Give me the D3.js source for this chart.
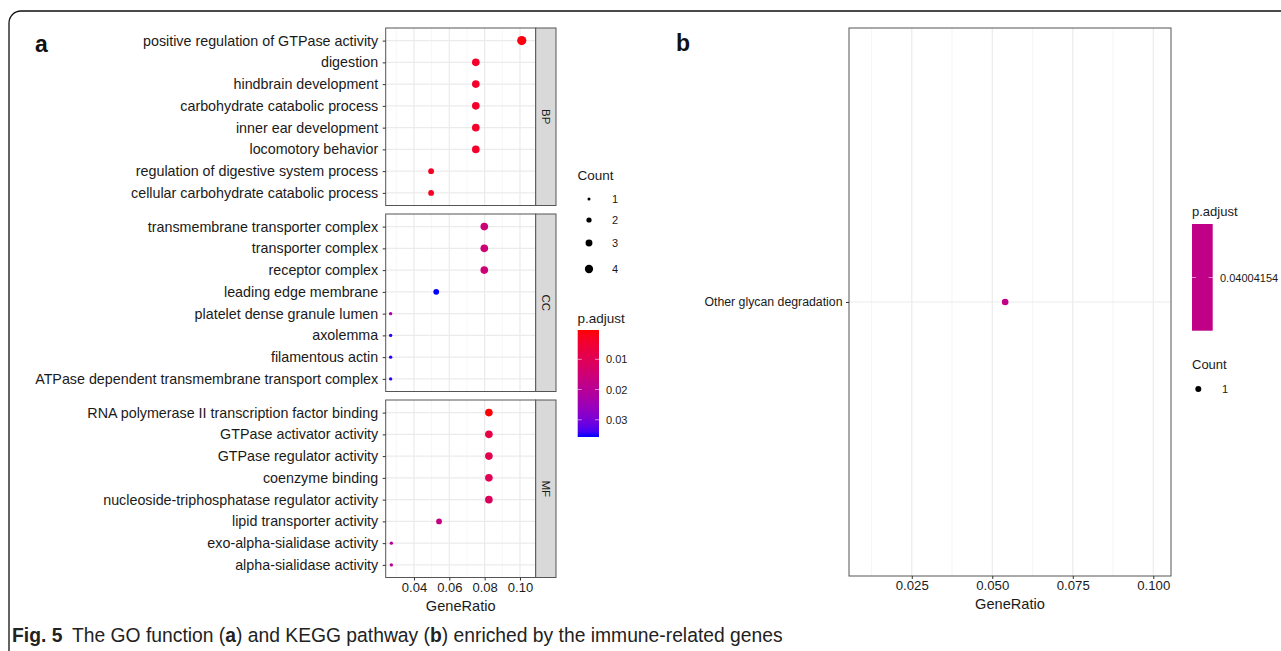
<!DOCTYPE html>
<html><head><meta charset="utf-8">
<script src="https://cdn.jsdelivr.net/npm/d3@7"></script>
<style>
html,body{margin:0;padding:0;background:#fff;}
svg{display:block;font-family:"Liberation Sans",Arial,sans-serif;}
</style></head>
<body><svg id="chart" width="1281" height="651"></svg>
<script>
// ---------- data ----------
const bpTerms = ["positive regulation of GTPase activity","digestion","hindbrain development","carbohydrate catabolic process","inner ear development","locomotory behavior","regulation of digestive system process","cellular carbohydrate catabolic process"];
const bpRatio = [0.101,0.075,0.075,0.075,0.075,0.075,0.0497,0.0497];
const bpCount = [4,3,3,3,3,3,2,2];
const bpPadj  = [0.0012,0.0040,0.0040,0.0040,0.0040,0.0040,0.0030,0.0030];

const ccTerms = ["transmembrane transporter complex","transporter complex","receptor complex","leading edge membrane","platelet dense granule lumen","axolemma","filamentous actin","ATPase dependent transmembrane transport complex"];
const ccRatio = [0.0798,0.0798,0.0798,0.0526,0.0268,0.0268,0.0268,0.0268];
const ccCount = [3,3,3,2,1,1,1,1];
const ccPadj  = [0.0150,0.0150,0.0150,0.0357,0.0220,0.0350,0.0350,0.0350];

const mfTerms = ["RNA polymerase II transcription factor binding","GTPase activator activity","GTPase regulator activity","coenzyme binding","nucleoside\u2010triphosphatase regulator activity","lipid transporter activity","exo\u2010alpha\u2010sialidase activity","alpha\u2010sialidase activity"];
const mfRatio = [0.0824,0.0824,0.0824,0.0824,0.0824,0.0542,0.0272,0.0272];
const mfCount = [3,3,3,3,3,2,1,1];
const mfPadj  = [0.0003,0.0075,0.0090,0.0100,0.0110,0.0170,0.0200,0.0200];

const facetNames = ["BP","CC","MF"];
const xTicksA = [0.04,0.06,0.08,0.10];
const countLevels = [1,2,3,4];
const padjTicks = [0.01,0.02,0.03];

const keggTerms = ["Other glycan degradation"];
const keggRatio = [0.054];
const keggCount = [1];
const keggPadj  = [0.04004154];
const xTicksB = [0.025,0.050,0.075,0.100];
const keggPadjLabels = ["0.04004154"];

// ---------- setup ----------
const svg = d3.select("#chart");
svg.append("rect").attr("width",1281).attr("height",651).attr("fill","#fff");

// outer frame
svg.append("path").attr("d","M9,651 V23 A12,12 0 0 1 21,11 H1281")
  .attr("fill","none").attr("stroke","#111").attr("stroke-width",1.3);

const gridMajor = "#EBEBEB", gridMinor = "#F4F4F4", borderCol = "#555", textCol = "#1a1a1a";
const colorScale = d3.scaleLinear().domain([0.0003,0.0357]).range(["red","blue"]).interpolate(d3.interpolateLab);
const sizeScale = d3.scalePow().exponent(0.5).domain([1,4]).range([1.7,4.6]);
const yLabSizeA = 14.3, tickSizeTxt = 13, titleSize = 14.6, legTitle = 13.5, legLab = 11;

// ---------- panel a ----------
const xA = d3.scaleLinear().domain([0.024,0.1089]).range([385.7,535.7]);
const minorA = [0.03,0.05,0.07,0.09];
const panelTop = 28, panelH = 177.5, panelGap = 8.5;
const stripW = 20.3;
const facets = [
  {name:facetNames[0], terms:bpTerms, ratio:bpRatio, count:bpCount, padj:bpPadj},
  {name:facetNames[1], terms:ccTerms, ratio:ccRatio, count:ccCount, padj:ccPadj},
  {name:facetNames[2], terms:mfTerms, ratio:mfRatio, count:mfCount, padj:mfPadj}
];
const gA = svg.append("g");
facets.forEach((f,i)=>{
  const top = panelTop + i*(panelH+panelGap);
  const y = d3.scalePoint().domain(f.terms).range([top, top+panelH]).padding(0.58);
  const g = gA.append("g");
  const x0 = xA.range()[0], x1 = xA.range()[1];
  g.append("rect").attr("x",x0).attr("y",top).attr("width",x1-x0).attr("height",panelH).attr("fill","#fff");
  g.selectAll(".vmin").data(minorA).join("line")
    .attr("x1",d=>xA(d)).attr("x2",d=>xA(d)).attr("y1",top).attr("y2",top+panelH)
    .attr("stroke",gridMinor).attr("stroke-width",0.8);
  g.selectAll(".vmaj").data(xTicksA).join("line")
    .attr("x1",d=>xA(d)).attr("x2",d=>xA(d)).attr("y1",top).attr("y2",top+panelH)
    .attr("stroke",gridMajor).attr("stroke-width",1.2);
  g.selectAll(".hmaj").data(f.terms).join("line")
    .attr("x1",x0).attr("x2",x1).attr("y1",d=>y(d)).attr("y2",d=>y(d))
    .attr("stroke",gridMajor).attr("stroke-width",1.2);
  const pts = f.terms.map((t,j)=>({t, r:f.ratio[j], c:f.count[j], p:f.padj[j]}));
  g.selectAll("circle").data(pts).join("circle")
    .attr("cx",d=>xA(d.r)).attr("cy",d=>y(d.t)).attr("r",d=>sizeScale(d.c))
    .attr("fill",d=>colorScale(d.p));
  g.append("rect").attr("x",x0).attr("y",top).attr("width",x1-x0).attr("height",panelH)
    .attr("fill","none").attr("stroke",borderCol).attr("stroke-width",1);
  // strip
  g.append("rect").attr("x",x1).attr("y",top).attr("width",stripW).attr("height",panelH)
    .attr("fill","#D9D9D9").attr("stroke",borderCol).attr("stroke-width",1);
  g.append("text").attr("transform",`translate(${x1+stripW/2},${top+panelH/2}) rotate(90)`)
    .attr("text-anchor","middle").attr("dominant-baseline","central")
    .attr("font-size",11.5).attr("fill",textCol).text(f.name);
  // y axis
  const ax = g.append("g").attr("transform",`translate(${x0},0)`)
    .call(d3.axisLeft(y).tickSize(3).tickPadding(4.5));
  ax.select(".domain").remove();
  ax.selectAll(".tick line").attr("stroke","#333");
  ax.selectAll(".tick text").attr("font-size",yLabSizeA).attr("fill",textCol).attr("font-family","Liberation Sans, Arial, sans-serif");
  if(i===2){
    const xa = g.append("g").attr("transform",`translate(0,${top+panelH})`)
      .call(d3.axisBottom(xA).tickValues(xTicksA).tickFormat(d3.format(".2f")).tickSize(3).tickPadding(2));
    xa.select(".domain").remove();
    xa.selectAll(".tick line").attr("stroke","#333");
    xa.selectAll(".tick text").attr("font-size",tickSizeTxt).attr("fill",textCol).attr("font-family","Liberation Sans, Arial, sans-serif");
    g.append("text").attr("x",(x0+x1)/2).attr("y",top+panelH+33).attr("text-anchor","middle")
      .attr("font-size",titleSize).attr("fill",textCol).text("GeneRatio");
  }
});

// panel a legend
const legA = svg.append("g");
legA.append("text").attr("x",577.5).attr("y",180).attr("font-size",legTitle).attr("fill",textCol).text("Count");
const legYs = [199,220,243,269];
legA.selectAll("circle").data(countLevels).join("circle")
  .attr("cx",589).attr("cy",(d,i)=>legYs[i]).attr("r",d=>sizeScale(d)*0.9).attr("fill","#000");
legA.selectAll(".cl").data(countLevels).join("text")
  .attr("x",612).attr("y",(d,i)=>legYs[i]).attr("dominant-baseline","central")
  .attr("font-size",legLab).attr("fill",textCol).text(d=>d);
legA.append("text").attr("x",577.5).attr("y",323).attr("font-size",legTitle).attr("fill",textCol).text("p.adjust");
const barTop = 330, barBot = 437, barX = 577.7, barW = 21.3;
const pBar = d3.scaleLinear().domain(colorScale.domain()).range([barTop,barBot]);
const defs = svg.append("defs");
const grad = defs.append("linearGradient").attr("id","gA").attr("x1",0).attr("x2",0).attr("y1",0).attr("y2",1);
d3.range(0,1.0001,0.05).forEach(t=>{
  const p = colorScale.domain()[0] + t*(colorScale.domain()[1]-colorScale.domain()[0]);
  grad.append("stop").attr("offset",t).attr("stop-color",colorScale(p));
});
legA.append("rect").attr("x",barX).attr("y",barTop).attr("width",barW).attr("height",barBot-barTop).attr("fill","url(#gA)");
padjTicks.forEach(v=>{
  const yy = pBar(v);
  legA.append("line").attr("x1",barX).attr("x2",barX+4).attr("y1",yy).attr("y2",yy).attr("stroke","#fff").attr("stroke-width",0.8).attr("opacity",0.7);
  legA.append("line").attr("x1",barX+barW-4).attr("x2",barX+barW).attr("y1",yy).attr("y2",yy).attr("stroke","#fff").attr("stroke-width",0.8).attr("opacity",0.7);
  legA.append("text").attr("x",barX+barW+7).attr("y",yy).attr("dominant-baseline","central")
    .attr("font-size",legLab).attr("fill",textCol).text(d3.format(".2f")(v));
});

// ---------- panel b ----------
const xB = d3.scaleLinear().domain([0.0055,0.1055]).range([849,1171]);
const minorB = [0.0125,0.0375,0.0625,0.0875];
const bTop = 28, bBot = 576;
const yB = d3.scalePoint().domain(keggTerms).range([bTop,bBot]).padding(0.5);
const gB = svg.append("g");
gB.append("rect").attr("x",849).attr("y",bTop).attr("width",322).attr("height",bBot-bTop).attr("fill","#fff");
gB.selectAll(".vmin").data(minorB).join("line")
  .attr("x1",d=>xB(d)).attr("x2",d=>xB(d)).attr("y1",bTop).attr("y2",bBot)
  .attr("stroke",gridMinor).attr("stroke-width",0.8);
gB.selectAll(".vmaj").data(xTicksB).join("line")
  .attr("x1",d=>xB(d)).attr("x2",d=>xB(d)).attr("y1",bTop).attr("y2",bBot)
  .attr("stroke",gridMajor).attr("stroke-width",1.2);
gB.selectAll(".hmaj").data(keggTerms).join("line")
  .attr("x1",849).attr("x2",1171).attr("y1",d=>yB(d)).attr("y2",d=>yB(d))
  .attr("stroke",gridMajor).attr("stroke-width",1.2);
const colorB = d3.scaleLinear().domain([keggPadj[0]-1,keggPadj[0],keggPadj[0]+1])
  .range(["red",d3.interpolateLab("red","blue")(0.5),"blue"]).interpolate(d3.interpolateLab);
const sizeB = d3.scaleLinear().domain([0,2]).range([0,6.6]);
gB.selectAll("circle").data(keggTerms.map((t,j)=>({t,r:keggRatio[j],c:keggCount[j],p:keggPadj[j]}))).join("circle")
  .attr("cx",d=>xB(d.r)).attr("cy",d=>yB(d.t)).attr("r",d=>sizeB(d.c)).attr("fill",d=>colorB(d.p));
gB.append("rect").attr("x",849).attr("y",bTop).attr("width",322).attr("height",bBot-bTop)
  .attr("fill","none").attr("stroke",borderCol).attr("stroke-width",1);
const ayB = gB.append("g").attr("transform","translate(849,0)").call(d3.axisLeft(yB).tickSize(3).tickPadding(3.5));
ayB.select(".domain").remove();
ayB.selectAll(".tick line").attr("stroke","#333");
ayB.selectAll(".tick text").attr("font-size",12.3).attr("fill",textCol).attr("font-family","Liberation Sans, Arial, sans-serif");
const axB = gB.append("g").attr("transform",`translate(0,${bBot})`)
  .call(d3.axisBottom(xB).tickValues(xTicksB).tickFormat(d3.format(".3f")).tickSize(3).tickPadding(2));
axB.select(".domain").remove();
axB.selectAll(".tick line").attr("stroke","#333");
axB.selectAll(".tick text").attr("font-size",13.2).attr("fill",textCol).attr("font-family","Liberation Sans, Arial, sans-serif");
gB.append("text").attr("x",1010).attr("y",bBot+33).attr("text-anchor","middle").attr("font-size",titleSize).attr("fill",textCol).text("GeneRatio");

// panel b legend
const legB = svg.append("g");
legB.append("text").attr("x",1192).attr("y",216).attr("font-size",13).attr("fill",textCol).text("p.adjust");
legB.append("rect").attr("x",1192).attr("y",224).attr("width",20.7).attr("height",106.7).attr("fill",colorB(keggPadj[0]));
[277.5].forEach((yy,k)=>{
  legB.append("line").attr("x1",1192).attr("x2",1196).attr("y1",yy).attr("y2",yy).attr("stroke","#fff").attr("stroke-width",0.8).attr("opacity",0.7);
  legB.append("line").attr("x1",1208.7).attr("x2",1212.7).attr("y1",yy).attr("y2",yy).attr("stroke","#fff").attr("stroke-width",0.8).attr("opacity",0.7);
  legB.append("text").attr("x",1220).attr("y",yy).attr("dominant-baseline","central").attr("font-size",11).attr("fill",textCol).text(keggPadjLabels[k]);
});
legB.append("text").attr("x",1192).attr("y",369).attr("font-size",13).attr("fill",textCol).text("Count");
legB.selectAll("circle").data(keggCount).join("circle").attr("cx",1198.3).attr("cy",389).attr("r",3).attr("fill","#000");
legB.selectAll(".cl").data(keggCount).join("text").attr("x",1222).attr("y",389).attr("dominant-baseline","central")
  .attr("font-size",11).attr("fill",textCol).text(d=>d);

// panel letters
svg.append("text").attr("x",35).attr("y",52).attr("font-size",23).attr("font-weight","bold").attr("fill","#111").text("a");
svg.append("text").attr("x",676).attr("y",51).attr("font-size",23).attr("font-weight","bold").attr("fill","#111").text("b");

// caption
const cap = svg.append("text").attr("x",12).attr("y",642).attr("font-size",19.3).attr("fill","#222");
cap.append("tspan").attr("font-weight","bold").text("Fig. 5");
cap.append("tspan").text("\u2002The GO function (");
cap.append("tspan").attr("font-weight","bold").text("a");
cap.append("tspan").text(") and KEGG pathway (");
cap.append("tspan").attr("font-weight","bold").text("b");
cap.append("tspan").text(") enriched by the immune-related genes");
</script></body></html>
